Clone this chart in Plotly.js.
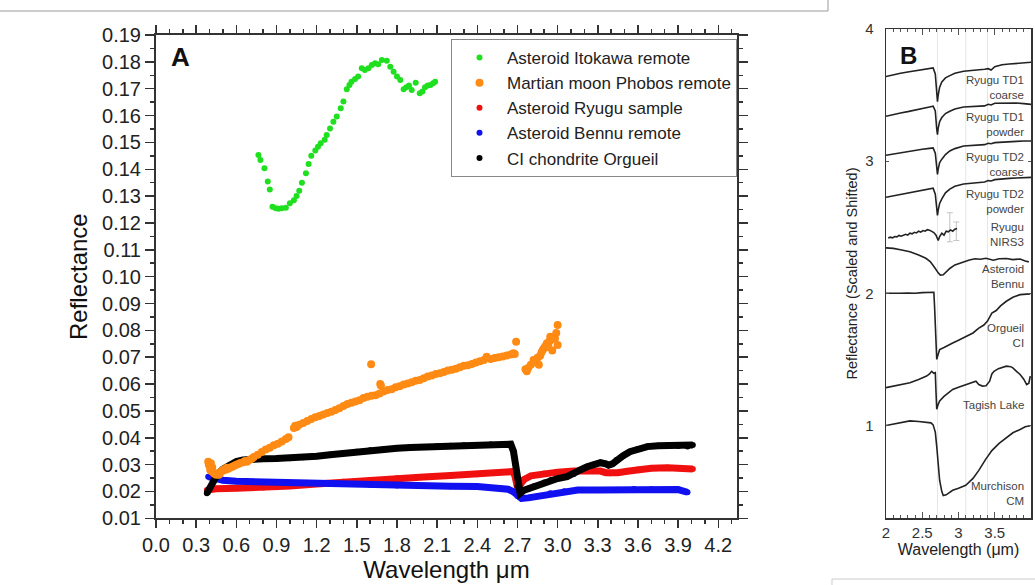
<!DOCTYPE html>
<html>
<head>
<meta charset="utf-8">
<script src="https://cdn.plot.ly/plotly-3.0.1.min.js"></script>
<style>
html,body{margin:0;padding:0;background:#fff;}
#chart{width:1035px;height:585px;}
</style>
</head>
<body>
<div id="chart"></div>
<script>
// ---------- Panel A data ----------
const itokawaX = [0.765,0.78,0.81,0.835,0.85,0.87,0.895,0.915,0.94,0.97,1.0,1.03,1.05,1.07,1.09,1.12,1.14,1.16,1.19,1.21,1.23,1.26,1.275,1.30,1.325,1.35,1.38,1.40,1.425,1.445,1.46,1.487,1.51,1.537,1.56,1.587,1.612,1.637,1.66,1.687,1.724,1.75,1.775,1.80,1.825,1.85,1.87,1.89,1.91,1.94,1.97,1.99,2.01,2.03,2.05,2.07,2.085];
const itokawaY = [0.1453,0.1434,0.1404,0.1354,0.1325,0.1260,0.1255,0.1253,0.1255,0.1257,0.1273,0.1285,0.1300,0.1320,0.1350,0.1385,0.1420,0.1450,0.1470,0.1484,0.1497,0.1510,0.1528,0.1552,0.1577,0.1596,0.1627,0.1652,0.1698,0.1714,0.1726,0.1736,0.1745,0.1776,0.1770,0.1776,0.1788,0.1795,0.1791,0.1807,0.1804,0.1782,0.1763,0.1745,0.1732,0.1698,0.1705,0.1712,0.1695,0.1722,0.1683,0.1690,0.1705,0.1712,0.1714,0.1720,0.1726];

const phobosX = [0.39,0.395,0.40,0.405,0.41,0.415,0.42,0.43,0.44,0.45,0.46,0.47,0.48,0.49,0.50,0.51,0.52,0.53,0.54,0.555,0.57,0.585,0.60,0.615,0.63,0.65,0.665,0.68,0.70,0.715,0.73,0.76,0.79,0.82,0.85,0.88,0.91,0.94,0.97,0.99,1.03,1.04,1.05,1.07,1.10,1.13,1.16,1.19,1.22,1.25,1.28,1.31,1.34,1.37,1.40,1.43,1.46,1.49,1.52,1.55,1.58,1.607,1.61,1.64,1.67,1.675,1.68,1.70,1.73,1.76,1.79,1.82,1.85,1.88,1.91,1.94,1.97,2.00,2.03,2.06,2.09,2.12,2.15,2.18,2.21,2.24,2.27,2.30,2.33,2.36,2.39,2.42,2.45,2.47,2.50,2.53,2.56,2.59,2.62,2.65,2.67,2.68,2.69,2.76,2.77,2.78,2.80,2.82,2.83,2.85,2.86,2.87,2.88,2.89,2.90,2.91,2.92,2.93,2.93,2.94,2.945,2.95,2.96,2.96,2.97,2.98,2.99,3.00,3.00];
const phobosY = [0.0311,0.0300,0.0295,0.0280,0.0305,0.0275,0.0290,0.0270,0.0265,0.0262,0.0268,0.0262,0.0270,0.0275,0.0278,0.0283,0.0281,0.0288,0.0285,0.0289,0.0292,0.0296,0.0299,0.0302,0.0306,0.0309,0.0313,0.0311,0.0318,0.0322,0.0328,0.0337,0.0347,0.0356,0.0363,0.0372,0.0378,0.0386,0.0395,0.0402,0.0436,0.0445,0.0440,0.0448,0.0455,0.0462,0.0470,0.0476,0.0481,0.0487,0.0492,0.0497,0.0503,0.0510,0.0518,0.0526,0.0530,0.0535,0.0540,0.0548,0.0553,0.0674,0.0556,0.0558,0.0565,0.0600,0.0595,0.0572,0.0578,0.0581,0.0588,0.0592,0.0598,0.0602,0.0607,0.0612,0.0615,0.0622,0.0628,0.0632,0.0637,0.0640,0.0645,0.0650,0.0653,0.0657,0.0663,0.0668,0.0670,0.0675,0.0680,0.0685,0.0690,0.0702,0.0693,0.0697,0.0700,0.0703,0.0706,0.0710,0.0715,0.0712,0.0758,0.0655,0.0648,0.0660,0.0672,0.0690,0.0682,0.0698,0.0672,0.0705,0.0718,0.0728,0.0735,0.0742,0.0752,0.0745,0.0738,0.0760,0.0776,0.0765,0.0772,0.0725,0.0776,0.0770,0.0790,0.0820,0.0745];

const ryuguX = [0.38,0.45,0.60,0.80,1.00,1.20,1.40,1.60,1.80,2.00,2.20,2.40,2.60,2.66,2.68,2.70,2.72,2.75,2.80,2.90,3.00,3.12,3.25,3.32,3.36,3.39,3.45,3.52,3.60,3.70,3.82,3.92,4.01];
const ryuguY = [0.0205,0.0210,0.0212,0.0215,0.0220,0.0228,0.0236,0.0243,0.0249,0.0254,0.0259,0.0264,0.0272,0.0274,0.0260,0.0215,0.0225,0.0245,0.0258,0.0267,0.0272,0.0276,0.0277,0.0276,0.0270,0.0268,0.0270,0.0275,0.0282,0.0286,0.0288,0.0286,0.0284];

const bennuX = [0.39,0.42,0.50,0.60,0.80,1.00,1.20,1.40,1.60,1.80,2.00,2.20,2.40,2.57,2.63,2.67,2.70,2.73,2.78,2.85,2.945,3.05,3.15,3.30,3.45,3.57,3.70,3.82,3.90,3.97];
const bennuY = [0.0255,0.0250,0.0242,0.0238,0.0235,0.0232,0.0230,0.0228,0.0225,0.0222,0.0221,0.0219,0.0218,0.0213,0.0208,0.0199,0.0183,0.0174,0.0176,0.0182,0.0193,0.0201,0.0205,0.0205,0.0206,0.0209,0.0208,0.0205,0.0207,0.0197];

const orgueilX = [0.38,0.40,0.43,0.46,0.50,0.55,0.60,0.65,0.70,0.80,0.90,1.00,1.10,1.20,1.30,1.40,1.50,1.60,1.70,1.80,1.90,2.00,2.10,2.20,2.30,2.40,2.50,2.60,2.65,2.67,2.69,2.70,2.72,2.75,2.82,2.90,2.95,3.00,3.07,3.12,3.17,3.22,3.28,3.32,3.36,3.38,3.41,3.44,3.49,3.54,3.60,3.67,3.75,3.82,3.90,3.97,4.01];
const orgueilY = [0.0193,0.0210,0.0243,0.0265,0.0283,0.0298,0.0311,0.0317,0.0320,0.0322,0.0323,0.0324,0.0327,0.0331,0.0337,0.0343,0.0348,0.0353,0.0357,0.0361,0.0364,0.0366,0.0368,0.0370,0.0372,0.0373,0.0375,0.0376,0.0376,0.0350,0.0280,0.0220,0.0193,0.0205,0.0218,0.0233,0.0243,0.0248,0.0255,0.0265,0.0280,0.0292,0.0302,0.0307,0.0303,0.0298,0.0303,0.0317,0.0333,0.0348,0.0358,0.0367,0.0370,0.0371,0.0369,0.0367,0.0373];

const seriesNames = ["Asteroid Itokawa remote","Martian moon Phobos remote","Asteroid Ryugu sample","Asteroid Bennu remote","CI chondrite Orgueil"];
const xTicksA = [0.0,0.3,0.6,0.9,1.2,1.5,1.8,2.1,2.4,2.7,3.0,3.3,3.6,3.9,4.2];

// ---------- Panel B data ----------
const bX1 = [2.0,2.1,2.2,2.3,2.4,2.5,2.6,2.65,2.68,2.70,2.71,2.72,2.74,2.77,2.82,2.88,2.95,3.07,3.2,3.3,3.36,3.41,3.45,3.5,3.6,3.7,3.8,3.9,4.0];
const td1CoarseY  = [3.641,3.655,3.665,3.675,3.685,3.693,3.700,3.705,3.66,3.50,3.45,3.50,3.56,3.60,3.63,3.647,3.665,3.680,3.685,3.690,3.695,3.700,3.690,3.715,3.730,3.735,3.740,3.745,3.748];
const td1PowderY  = [3.340,3.355,3.365,3.375,3.385,3.395,3.410,3.416,3.38,3.24,3.20,3.25,3.30,3.33,3.36,3.378,3.395,3.410,3.415,3.420,3.418,3.430,3.425,3.438,3.440,3.443,3.440,3.435,3.430];
const td2CoarseY  = [3.045,3.055,3.065,3.075,3.083,3.090,3.097,3.100,3.06,2.93,2.90,2.94,2.99,3.015,3.05,3.077,3.095,3.115,3.120,3.128,3.125,3.135,3.132,3.140,3.145,3.148,3.150,3.152,3.153];
const td2PowderY  = [2.727,2.738,2.750,2.760,2.770,2.780,2.790,2.795,2.75,2.62,2.589,2.63,2.68,2.714,2.76,2.789,2.810,2.827,2.835,2.844,2.842,2.853,2.850,2.860,2.867,2.870,2.873,2.876,2.877];
const nirsX = [2.03,2.06,2.09,2.12,2.15,2.18,2.21,2.24,2.27,2.30,2.33,2.36,2.39,2.42,2.45,2.48,2.51,2.54,2.57,2.60,2.63,2.66,2.69,2.71,2.72,2.74,2.77,2.80,2.83,2.86,2.89,2.92,2.95,2.98];
const nirsY = [2.418,2.425,2.420,2.430,2.427,2.438,2.432,2.440,2.447,2.440,2.455,2.450,2.462,2.457,2.470,2.463,2.475,2.470,2.482,2.478,2.470,2.460,2.440,2.410,2.400,2.430,2.455,2.440,2.470,2.465,2.480,2.470,2.485,2.490];
const nirsErrX = [2.88,2.97];
const nirsErrY = [2.50,2.47];
const nirsErr = [0.11,0.07];
const bennuBX = [2.0,2.1,2.2,2.33,2.45,2.55,2.61,2.65,2.68,2.72,2.75,2.79,2.83,2.88,2.95,3.06,3.15,3.23,3.3,3.38,3.48,3.56,3.66,3.75,3.85,3.92,3.97];
const bennuBY = [2.344,2.340,2.330,2.314,2.290,2.265,2.240,2.215,2.188,2.155,2.138,2.140,2.160,2.188,2.215,2.238,2.252,2.262,2.258,2.265,2.250,2.262,2.263,2.255,2.260,2.245,2.238];
const orgBX = [2.0,2.1,2.2,2.3,2.4,2.5,2.6,2.66,2.67,2.68,2.69,2.70,2.72,2.74,2.8,2.86,2.92,3.0,3.1,3.2,3.28,3.35,3.4,3.46,3.52,3.58,3.66,3.75,3.85,3.92,3.99];
const orgBY = [2.000,1.998,2.000,2.003,2.000,2.005,2.008,2.008,1.90,1.70,1.55,1.50,1.54,1.574,1.59,1.61,1.624,1.645,1.674,1.700,1.737,1.760,1.790,1.850,1.870,1.905,1.940,1.970,1.990,1.994,1.996];
const tagishX = [2.0,2.1,2.2,2.33,2.45,2.56,2.6,2.63,2.66,2.68,2.69,2.70,2.72,2.74,2.8,2.86,2.92,3.0,3.1,3.17,3.24,3.28,3.33,3.38,3.43,3.46,3.49,3.55,3.62,3.66,3.72,3.75,3.8,3.85,3.9,3.94,3.97,3.99];
const tagishY = [1.286,1.298,1.310,1.323,1.348,1.374,1.390,1.410,1.395,1.400,1.250,1.123,1.160,1.185,1.220,1.250,1.273,1.290,1.310,1.320,1.335,1.310,1.298,1.300,1.335,1.390,1.410,1.430,1.440,1.449,1.445,1.436,1.410,1.386,1.350,1.310,1.320,1.374];
const murchX = [2.0,2.1,2.2,2.33,2.45,2.56,2.62,2.65,2.68,2.70,2.72,2.74,2.77,2.79,2.83,2.88,2.92,3.0,3.1,3.2,3.28,3.37,3.46,3.56,3.66,3.75,3.85,3.92,3.99];
const murchY = [1.000,1.010,1.025,1.035,1.030,1.025,1.020,1.005,0.950,0.840,0.700,0.584,0.500,0.470,0.475,0.495,0.510,0.525,0.547,0.600,0.660,0.740,0.810,0.865,0.910,0.945,0.970,0.990,0.998];
const bLabels = ["Ryugu TD1<br>coarse","Ryugu TD1<br>powder","Ryugu TD2<br>coarse","Ryugu TD2<br>powder","Ryugu<br>NIRS3","Asteroid<br>Bennu","Orgueil<br>CI","Tagish Lake","Murchison<br>CM"];
const bLabelY = [3.56,3.274,2.974,2.692,2.447,2.13,1.68,1.153,0.485];
const bMarkerLinesX = [2.71,3.1,3.4];

const FONT = "Liberation Sans, Arial, sans-serif";
const cGreen = "#1ee01e", cOrange = "#ff8a14", cRed = "#f01010", cBlue = "#1010f0", cBlack = "#000000";

function lineTrace(x, y, color, name, rank){
  return [
    {x:x, y:y, type:"scatter", mode:"lines", line:{color:color, width:7, shape:"linear"}, showlegend:false, legendgroup:name, hoverinfo:"skip"},
    {x:x, y:y, type:"scatter", mode:"markers", marker:{color:color, size:6}, name:name, legendgroup:name, legendrank:rank}
  ];
}

const traces = [];
traces.push(...lineTrace(ryuguX, ryuguY, cRed, seriesNames[2], 3));
traces.push(...lineTrace(bennuX, bennuY, cBlue, seriesNames[3], 4));
traces.push(...lineTrace(orgueilX, orgueilY, cBlack, seriesNames[4], 5));
traces.push({x:phobosX, y:phobosY, type:"scatter", mode:"markers", marker:{color:cOrange, size:8}, name:seriesNames[1], legendrank:2});
traces.push({x:itokawaX, y:itokawaY, type:"scatter", mode:"markers", marker:{color:cGreen, size:6}, name:seriesNames[0], legendrank:1});

const bCurves = [[bX1,td1CoarseY],[bX1,td1PowderY],[bX1,td2CoarseY],[bX1,td2PowderY],[nirsX,nirsY],[bennuBX,bennuBY],[orgBX,orgBY],[tagishX,tagishY],[murchX,murchY]];
traces.push({x:nirsErrX, y:nirsErrY, xaxis:"x2", yaxis:"y2", type:"scatter", mode:"markers", marker:{size:1,color:"#c4c4c4"}, error_y:{type:"data", array:nirsErr, color:"#c4c4c4", thickness:1, width:3}, showlegend:false, hoverinfo:"skip"});
bCurves.forEach(function(c){
  traces.push({x:c[0], y:c[1], xaxis:"x2", yaxis:"y2", type:"scatter", mode:"lines", line:{color:"#222", width:1.6}, showlegend:false});
});

const annotations = [
  {text:"<b>A</b>", xref:"paper", yref:"paper", x:180/1035, y:1-57/585, xanchor:"center", yanchor:"middle", showarrow:false, font:{family:FONT, size:26, color:"#111"}},
  {text:"<b>B</b>", xref:"paper", yref:"paper", x:908/1035, y:1-55/585, xanchor:"center", yanchor:"middle", showarrow:false, font:{family:FONT, size:24, color:"#111"}}
];
bLabels.forEach(function(t,i){
  annotations.push({text:t, xref:"x2", yref:"y2", x:3.93, y:bLabelY[i], xanchor:"right", yanchor:"middle", align:"right", showarrow:false, font:{family:FONT, size:11.5, color:"#444"}});
});

const shapes = [
  {type:"line", xref:"paper", yref:"paper", x0:0, x1:828/1035, y0:1-11/585, y1:1-11/585, line:{color:"#999", width:1}},
  {type:"line", xref:"paper", yref:"paper", x0:828/1035, x1:828/1035, y0:1, y1:1-11/585, line:{color:"#999", width:1}},
  {type:"line", xref:"paper", yref:"paper", x0:832/1035, x1:1, y0:1-579/585, y1:1-579/585, line:{color:"#ccc", width:1}},
  {type:"line", xref:"paper", yref:"paper", x0:832/1035, x1:832/1035, y0:0, y1:1-579/585, line:{color:"#ccc", width:1}}
];
bMarkerLinesX.forEach(function(v){
  shapes.push({type:"line", xref:"x2", yref:"paper", x0:v, x1:v, y0:0.1145, y1:0.9504, line:{color:"#e6e6e6", width:1}, layer:"below"});
});

const axA = {showline:true, linewidth:2, linecolor:"#333", mirror:"ticks", ticks:"outside", tickwidth:1.5, tickcolor:"#333", showgrid:false, zeroline:false, tickfont:{family:FONT, size:20, color:"#222"}};
const axB = {showline:true, linewidth:1.5, linecolor:"#333", mirror:"ticks", showgrid:false, zeroline:false, tickfont:{family:FONT, size:15, color:"#333"}};

const layout = {
  width:1035, height:585,
  margin:{l:0, r:0, t:0, b:0},
  paper_bgcolor:"#ffffff", plot_bgcolor:"#ffffff",
  font:{family:FONT, color:"#222"},
  showlegend:true,
  legend:{x:451/1035, y:1-39/585, xanchor:"left", yanchor:"top", bgcolor:"#ffffff", bordercolor:"#888", borderwidth:1, font:{family:FONT, size:17, color:"#222"}, itemwidth:45, tracegroupgap:0, traceorder:"normal"},
  xaxis: Object.assign({}, axA, {domain:[156/1035, 737/1035], range:[0, 4.34], tickvals:xTicksA, tickformat:".1f", ticklen:8, minor:{dtick:0.1, tick0:0, ticks:"outside", ticklen:4, tickcolor:"#333"}, anchor:"y",
     title:{text:"Wavelength \u03bcm", font:{family:FONT, size:24, color:"#111"}, standoff:6}}),
  yaxis: Object.assign({}, axA, {domain:[1-518.3/585, 1-35/585], range:[0.01, 0.19], dtick:0.01, tick0:0, tickformat:".2f", ticklen:9, minor:{dtick:0.005, tick0:0, ticks:"outside", ticklen:4, tickcolor:"#333"}, anchor:"x",
     title:{text:"Reflectance", font:{family:FONT, size:24, color:"#111"}, standoff:8}}),
  xaxis2: Object.assign({}, axB, {domain:[886/1035, 1031/1035], range:[2, 4], dtick:0.5, tick0:0, ticks:"inside", ticklen:6, tickcolor:"#555", minor:{dtick:0.1, tick0:0, ticks:"inside", ticklen:3, tickcolor:"#555"}, anchor:"y2",
     title:{text:"Wavelength (\u03bcm)", font:{family:FONT, size:16, color:"#222"}, standoff:4}}),
  yaxis2: Object.assign({}, axB, {domain:[1-518/585, 1-29/585], range:[0.3, 4], dtick:1, tick0:0, ticks:"inside", ticklen:3, tickcolor:"#555", anchor:"x2", ticklabelstandoff:8,
     title:{text:"Reflectance (Scaled and Shifted)", font:{family:FONT, size:14.5, color:"#222"}, standoff:4}}),
  annotations:annotations,
  shapes:shapes
};

Plotly.newPlot("chart", traces, layout, {displayModeBar:false, staticPlot:true});
</script>
</body>
</html>
